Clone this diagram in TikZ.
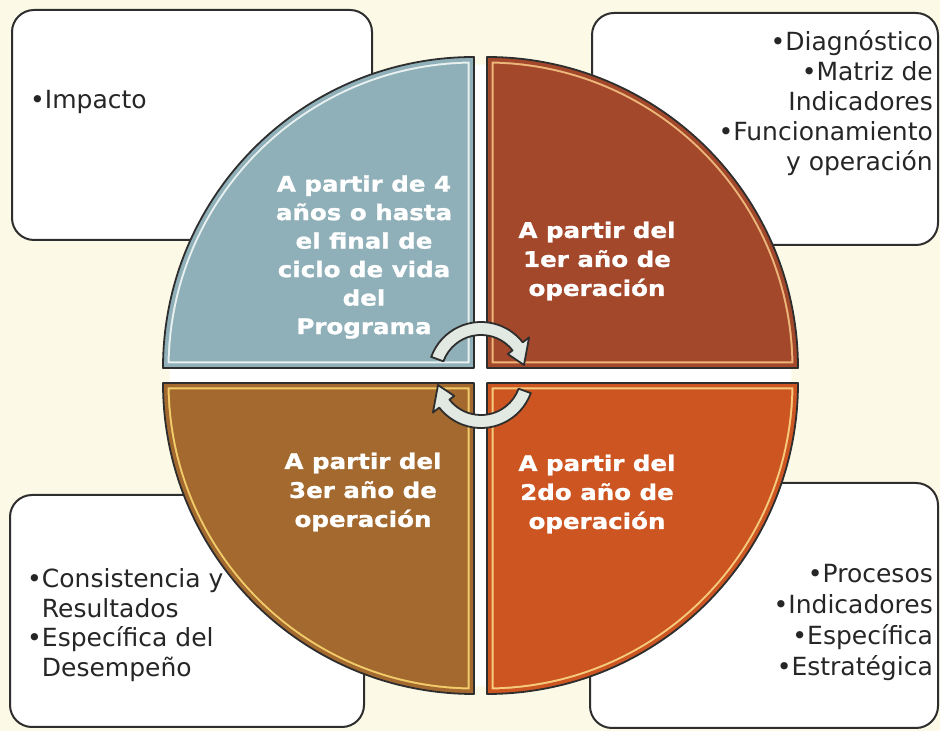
\documentclass[tikz,border=0pt]{standalone}
\usepackage{fontspec}
\setmainfont{DejaVu Sans}
\newfontfamily\qfont[FakeStretch=1.14,FakeBold=1.2]{DejaVu Sans}
\definecolor{bgcream}{HTML}{FCFAE6}
\definecolor{linegray}{HTML}{2E2E2E}
\definecolor{textgray}{HTML}{262626}
\definecolor{qTLfill}{HTML}{8FB0B8}
\definecolor{qTLhi}{HTML}{E8F0F0}
\definecolor{qTRfill}{HTML}{A4482C}
\definecolor{qTRhi}{HTML}{EDB67A}
\definecolor{qBLfill}{HTML}{A3692E}
\definecolor{qBLhi}{HTML}{F2CC6A}
\definecolor{qBRfill}{HTML}{CC5522}
\definecolor{qBRhi}{HTML}{F6CC7C}
\definecolor{arrowfill}{HTML}{E2E9E2}
\newcommand\quadpiece[5]{%
  \path[fill=#4] (#1,#2) -- ++(#3:311) arc[start angle=#3, end angle=#3+90, radius=311] -- cycle;
  \begin{scope}
    \clip (#1,#2) -- ++(#3:311) arc[start angle=#3, end angle=#3+90, radius=311] -- cycle;
    \draw[#5, line width=13] (#1,#2) -- ++(#3:311) arc[start angle=#3, end angle=#3+90, radius=311] -- cycle;
    \draw[#4, line width=9] (#1,#2) -- ++(#3:311) arc[start angle=#3, end angle=#3+90, radius=311] -- cycle;
  \end{scope}
  \draw[quadline] (#1,#2) -- ++(#3:311) arc[start angle=#3, end angle=#3+90, radius=311] -- cycle;
}
\begin{document}
\begin{tikzpicture}[x=1pt,y=1pt,
  box/.style={draw=linegray, line width=2, fill=white, rounded corners=22, inner sep=0},
  quadline/.style={draw=linegray, line width=1.8, line join=round},
  btext/.style={text=textgray, font=\fontsize{25}{30}\selectfont, inner sep=0},
  qtext/.style={text=white, font=\qfont\bfseries\fontsize{21.5}{28.5}\selectfont, align=center, inner sep=0},
  arrowsty/.style={draw=linegray, line width=1.8, fill=arrowfill, line join=round}]
\useasboundingbox (0,0) rectangle (940,731);
\fill[bgcream] (0,0) rectangle (940,731);
% outer boxes
\node[box, minimum width=360, minimum height=230] (boxTL) at (192,606) {};
\node[box, minimum width=346, minimum height=232] (boxTR) at (765,602) {};
\node[box, minimum width=354, minimum height=232] (boxBL) at (187,120) {};
\node[box, minimum width=348, minimum height=245] (boxBR) at (764,125.5) {};
% white background of the circle
\fill[white] (480.5,355.5) circle[radius=311];
% quadrants
\quadpiece{474}{363}{90}{qTLfill}{qTLhi}
\quadpiece{487}{363}{0}{qTRfill}{qTRhi}
\quadpiece{474}{348}{180}{qBLfill}{qBLhi}
\quadpiece{487}{348}{270}{qBRfill}{qBRhi}
% cycle arrows
\begin{scope}[shift={(481,356)}]
  \draw[arrowsty] (160:53) arc[start angle=160, end angle=38, radius=53] -- (38:61) -- (43,10) -- (38:34) -- (38:40) arc[start angle=38, end angle=160, radius=40] -- cycle;
  \draw[arrowsty, rotate=180] (160:53) arc[start angle=160, end angle=38, radius=53] -- (38:61) -- (43,10) -- (38:34) -- (38:40) arc[start angle=38, end angle=160, radius=40] -- cycle;
\end{scope}
% box texts
\node[btext, anchor=west] (tImp) at (30,629) {•Impacto};
\node[btext, anchor=east, align=right] (tTR) at (933,627.5) {•Diagnóstico\\•Matriz de\\Indicadores\\•Funcionamiento\\y operación};
\node[btext, anchor=west, align=left, font=\fontsize{25}{29.5}\selectfont] (tBL) at (27,106) {•Consistencia y\\\hphantom{•}Resultados\\•Específica del\\\hphantom{•}Desempeño};
\node[btext, anchor=east, align=right, font=\fontsize{25}{31}\selectfont] (tBR) at (933,109) {•Procesos\\•Indicadores\\•Específica\\•Estratégica};
% quadrant texts
\node[qtext] (qtTL) at (364,474) {A partir de 4\\años o hasta\\el final de\\ciclo de vida\\del\\Programa};
\node[qtext, font=\qfont\bfseries\fontsize{21.5}{29}\selectfont] (qtTR) at (597,470) {A partir del\\1er año de\\operación};
\node[qtext, font=\qfont\bfseries\fontsize{21.5}{29}\selectfont] (qtBL) at (363,239) {A partir del\\3er año de\\operación};
\node[qtext, font=\qfont\bfseries\fontsize{21.5}{29}\selectfont] (qtBR) at (597,237) {A partir del\\2do año de\\operación};
\end{tikzpicture}
\end{document}
